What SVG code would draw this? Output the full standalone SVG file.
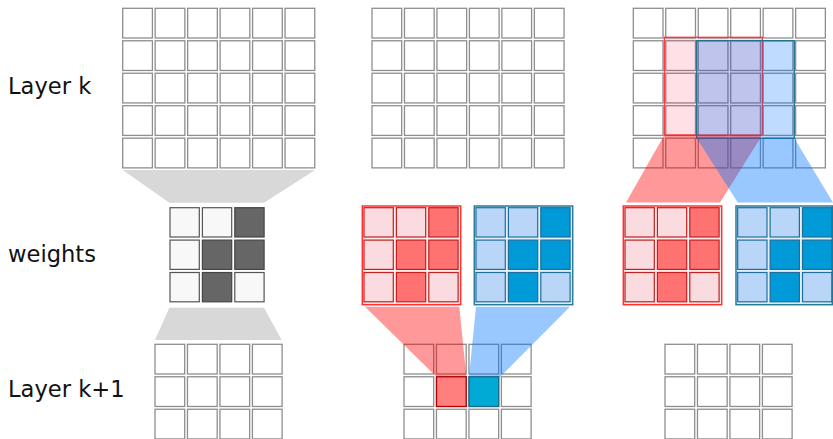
<svg xmlns="http://www.w3.org/2000/svg" xmlns:xlink="http://www.w3.org/1999/xlink" width="833" height="439" viewBox="0 0 833 439">
<style>
.c{fill:#fff;stroke:#8e8e8e;stroke-width:1.3}
.wl{fill:#f8f8f8;stroke:#555;stroke-width:1.2}
.wd{fill:#666;stroke:#444;stroke-width:1.2}
.rl{fill:#fadbe0;stroke:#c41e1e;stroke-width:1.2}
.rd{fill:#ff7272;stroke:#c41e1e;stroke-width:1.2}
.bl{fill:#b9d6f8;stroke:#1f6f9a;stroke-width:1.2}
.bd{fill:#009ad9;stroke:#1f6f9a;stroke-width:1.2}
.rbox{fill:#fdeeee;stroke:#ff3333;stroke-width:1.5}
.bbox{fill:#e3effa;stroke:#2a7a9a;stroke-width:1.5}
.lbl{font-family:"DejaVu Sans",sans-serif;font-size:22.6px;fill:#111}
.gt{fill:#d8d8d8}
.rt{fill:rgba(255,0,0,0.4)}
.bt{fill:rgba(0,115,255,0.4)}
</style>
<defs>
<g id="row6">
<rect class="c" x="0" y="0" width="29.7" height="29.7"/>
<rect class="c" x="32.47" y="0" width="29.7" height="29.7"/>
<rect class="c" x="64.94" y="0" width="29.7" height="29.7"/>
<rect class="c" x="97.41" y="0" width="29.7" height="29.7"/>
<rect class="c" x="129.88" y="0" width="29.7" height="29.7"/>
<rect class="c" x="162.35" y="0" width="29.7" height="29.7"/>
</g>
<g id="grid65">
<use href="#row6" y="0"/>
<use href="#row6" y="32.47"/>
<use href="#row6" y="64.94"/>
<use href="#row6" y="97.41"/>
<use href="#row6" y="129.88"/>
</g>
<g id="row4">
<rect class="c" x="0" y="0" width="29.7" height="29.7"/>
<rect class="c" x="32.47" y="0" width="29.7" height="29.7"/>
<rect class="c" x="64.94" y="0" width="29.7" height="29.7"/>
<rect class="c" x="97.41" y="0" width="29.7" height="29.7"/>
</g>
<g id="grid43">
<use href="#row4" y="0"/>
<use href="#row4" y="32.47"/>
<use href="#row4" y="64.94"/>
</g>
</defs>
<rect width="833" height="439" fill="#fff"/>

<g id="labels">
<text class="lbl" x="8" y="94.3">Layer k</text>
<text class="lbl" x="8" y="262">weights</text>
<text class="lbl" x="8" y="397">Layer k+1</text>
</g>

<g id="layerk-left"><use href="#grid65" x="122.7" y="8.3"/></g>
<g id="layerk-mid"><use href="#grid65" x="372" y="8.3"/></g>
<g id="layerk-right">
<use href="#grid65" x="633.3" y="8.3"/>
<rect x="664.3" y="37.3" width="98" height="97.7" fill="rgba(255,0,51,0.12)" stroke="#ff3333" stroke-width="1.3"/>
<rect x="696.7" y="40.7" width="97.6" height="97.6" fill="rgba(0,110,255,0.25)" stroke="#1f6f8a" stroke-width="1.3"/>
</g>

<g id="layerk1-left"><use href="#grid43" x="155" y="344.3"/></g>
<g id="layerk1-mid"><use href="#grid43" x="404" y="344.3"/></g>
<g id="layerk1-right"><use href="#grid43" x="665" y="344.3"/></g>

<g id="connectors">
<polygon class="gt" points="122.7,170 315,170 264,202.7 169.3,202.7"/>
<polygon class="gt" points="169.3,307.7 264,307.7 281.7,340 155,340"/>
<polygon class="rt" points="365,306.7 459.3,306.7 466.4,377 436.7,377"/>
<polygon class="bt" points="476,306.7 570,306.7 500,377 469,377"/>
<polygon class="rt" points="664.3,135 762.3,135 720,202.5 626,202.5"/>
<polygon class="bt" points="696.7,138.3 794.3,138.3 833,202.5 737.7,202.5"/>
</g>

<g id="output-cells">
<rect x="436.5" y="376.8" width="29.7" height="29.7" fill="#ff7f7f" stroke="#b00000" stroke-width="1.3"/>
<rect x="469" y="376.8" width="29.7" height="29.7" fill="#00aad4" stroke="#1a6a8a" stroke-width="1.3"/>
</g>

<g id="weights-gray" transform="translate(170,207.7)">
<rect class="wl" x="0" y="0" width="29.3" height="29.3"/>
<rect class="wl" x="32.4" y="0" width="29.3" height="29.3"/>
<rect class="wd" x="64.8" y="0" width="29.3" height="29.3"/>
<rect class="wl" x="0" y="32.4" width="29.3" height="29.3"/>
<rect class="wd" x="32.4" y="32.4" width="29.3" height="29.3"/>
<rect class="wd" x="64.8" y="32.4" width="29.3" height="29.3"/>
<rect class="wl" x="0" y="64.8" width="29.3" height="29.3"/>
<rect class="wd" x="32.4" y="64.8" width="29.3" height="29.3"/>
<rect class="wl" x="64.8" y="64.8" width="29.3" height="29.3"/>
</g>

<g id="weights-red-mid" transform="translate(364,207.7)">
<rect class="rbox" x="-1.7" y="-1.7" width="98.4" height="98.7"/>
<rect class="rl" x="0" y="0" width="29.3" height="29.3"/>
<rect class="rl" x="32.4" y="0" width="29.3" height="29.3"/>
<rect class="rd" x="64.8" y="0" width="29.3" height="29.3"/>
<rect class="rl" x="0" y="32.4" width="29.3" height="29.3"/>
<rect class="rd" x="32.4" y="32.4" width="29.3" height="29.3"/>
<rect class="rd" x="64.8" y="32.4" width="29.3" height="29.3"/>
<rect class="rl" x="0" y="64.8" width="29.3" height="29.3"/>
<rect class="rd" x="32.4" y="64.8" width="29.3" height="29.3"/>
<rect class="rl" x="64.8" y="64.8" width="29.3" height="29.3"/>
</g>

<g id="weights-blue-mid" transform="translate(476,207.7)">
<rect class="bbox" x="-1.7" y="-1.7" width="98.4" height="98.7"/>
<rect class="bl" x="0" y="0" width="29.3" height="29.3"/>
<rect class="bl" x="32.4" y="0" width="29.3" height="29.3"/>
<rect class="bd" x="64.8" y="0" width="29.3" height="29.3"/>
<rect class="bl" x="0" y="32.4" width="29.3" height="29.3"/>
<rect class="bd" x="32.4" y="32.4" width="29.3" height="29.3"/>
<rect class="bd" x="64.8" y="32.4" width="29.3" height="29.3"/>
<rect class="bl" x="0" y="64.8" width="29.3" height="29.3"/>
<rect class="bd" x="32.4" y="64.8" width="29.3" height="29.3"/>
<rect class="bl" x="64.8" y="64.8" width="29.3" height="29.3"/>
</g>

<g id="weights-red-right" transform="translate(625,207.7)">
<rect class="rbox" x="-1.7" y="-1.7" width="98.4" height="98.7"/>
<rect class="rl" x="0" y="0" width="29.3" height="29.3"/>
<rect class="rl" x="32.4" y="0" width="29.3" height="29.3"/>
<rect class="rd" x="64.8" y="0" width="29.3" height="29.3"/>
<rect class="rl" x="0" y="32.4" width="29.3" height="29.3"/>
<rect class="rd" x="32.4" y="32.4" width="29.3" height="29.3"/>
<rect class="rd" x="64.8" y="32.4" width="29.3" height="29.3"/>
<rect class="rl" x="0" y="64.8" width="29.3" height="29.3"/>
<rect class="rd" x="32.4" y="64.8" width="29.3" height="29.3"/>
<rect class="rl" x="64.8" y="64.8" width="29.3" height="29.3"/>
</g>

<g id="weights-blue-right" transform="translate(737.7,207.7)">
<rect class="bbox" x="-1.7" y="-1.7" width="96.3" height="98.7"/>
<rect class="bl" x="0" y="0" width="29.3" height="29.3"/>
<rect class="bl" x="32.4" y="0" width="29.3" height="29.3"/>
<rect class="bd" x="64.8" y="0" width="29.3" height="29.3"/>
<rect class="bl" x="0" y="32.4" width="29.3" height="29.3"/>
<rect class="bd" x="32.4" y="32.4" width="29.3" height="29.3"/>
<rect class="bd" x="64.8" y="32.4" width="29.3" height="29.3"/>
<rect class="bl" x="0" y="64.8" width="29.3" height="29.3"/>
<rect class="bd" x="32.4" y="64.8" width="29.3" height="29.3"/>
<rect class="bl" x="64.8" y="64.8" width="29.3" height="29.3"/>
</g>
</svg>
